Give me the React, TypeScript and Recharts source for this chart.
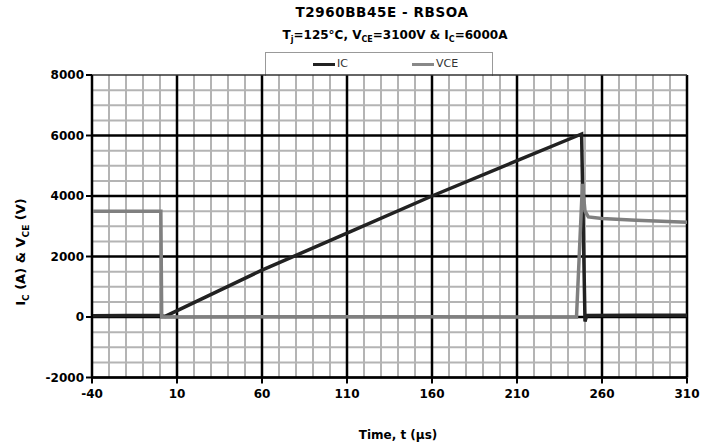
import { LineChart, Line, XAxis, YAxis, ReferenceLine } from "recharts";

// IC trace (time in µs, current in A)
const icTime = [-40, -20, 0, 3, 60, 110, 160, 210, 248, 250, 251, 280, 310];
const icValue = [40, 50, 50, 20, 1550, 2770, 4000, 5170, 6050, -150, 50, 60, 60];

// VCE trace (time in µs, voltage in V)
const vceTime = [-40, 0.5, 1, 60, 160, 245, 248.5, 250, 252, 260, 280, 310];
const vceValue = [3500, 3500, 0, 5, 5, 0, 4400, 3500, 3310, 3260, 3200, 3130];

const xTicks = [-40, 10, 60, 110, 160, 210, 260, 310];
const yTicks = [-2000, 0, 2000, 4000, 6000, 8000];

const icData = icTime.map((t, i) => ({ t, ic: icValue[i] }));
const vceData = vceTime.map((t, i) => ({ t, vce: vceValue[i] }));

const minorX: number[] = [];
for (let v = -30; v < 310; v += 10) if ((v + 40) % 50 !== 0) minorX.push(v);
const minorY: number[] = [];
for (let v = -1500; v < 8000; v += 500) if (v % 2000 !== 0) minorY.push(v);

const font = "'DejaVu Sans', Arial, sans-serif";
const tickStyle = { fontFamily: font, fontWeight: 700, fontSize: 12, fill: "#000" };

export default function App() {
  return (
    <div style={{ position: "absolute", left: 0, top: 0, width: 714, height: 443, background: "#fff", fontFamily: font }}>
      <div style={{ position: "absolute", left: 0, width: 764, top: 4, textAlign: "center", fontWeight: 700, fontSize: 13.5, letterSpacing: 0.6, lineHeight: "17px" }}>
        T2960BB45E - RBSOA
      </div>
      <div style={{ position: "absolute", left: 0, width: 790, top: 27, textAlign: "center", fontWeight: 700, fontSize: 12, lineHeight: "16px" }}>
        T<sub style={{ fontSize: 8 }}>j</sub>=125°C, V<sub style={{ fontSize: 8 }}>CE</sub>=3100V &amp; I<sub style={{ fontSize: 8 }}>C</sub>=6000A
      </div>
      {/* legend box */}
      <div style={{ position: "absolute", left: 265, top: 52, width: 226, height: 23, border: "1px solid #999", borderBottom: "none", fontSize: 11, color: "#333" }}>
        <div style={{ position: "absolute", left: 47, top: 10, width: 22, height: 3, background: "#222" }} />
        <div style={{ position: "absolute", left: 71, top: 4 }}>IC</div>
        <div style={{ position: "absolute", left: 146, top: 10, width: 22, height: 3, background: "#888" }} />
        <div style={{ position: "absolute", left: 170, top: 4 }}>VCE</div>
      </div>
      <div style={{ position: "absolute", left: 22, top: 252, transform: "translate(-50%, -50%) rotate(-90deg)", whiteSpace: "nowrap", fontWeight: 700, fontSize: 13 }}>
        I<sub style={{ fontSize: 9 }}>C</sub> (A) &amp; V<sub style={{ fontSize: 9 }}>CE</sub> (V)
      </div>
      <div style={{ position: "absolute", left: 0, width: 796, top: 428, textAlign: "center", fontWeight: 700, fontSize: 12 }}>
        Time, t (µs)
      </div>
      <LineChart width={714} height={443} margin={{ top: 75, right: 27, left: 0, bottom: 0 }}>
        <XAxis
          dataKey="t"
          type="number"
          domain={[-40, 310]}
          ticks={xTicks}
          allowDataOverflow
          height={65.5}
          tick={tickStyle}
          tickSize={6}
          tickMargin={6}
          axisLine={{ stroke: "#000", strokeWidth: 2 }}
          tickLine={{ stroke: "#000", strokeWidth: 2 }}
        />
        <YAxis
          type="number"
          domain={[-2000, 8000]}
          ticks={yTicks}
          allowDataOverflow
          width={92}
          tick={tickStyle}
          tickSize={6}
          tickMargin={2}
          axisLine={{ stroke: "#000", strokeWidth: 2 }}
          tickLine={{ stroke: "#000", strokeWidth: 2 }}
        />
        {minorX.map((v) => (
          <ReferenceLine key={`mx${v}`} x={v} stroke="#b4b4b4" strokeWidth={2} zIndex={-20} />
        ))}
        {minorY.map((v) => (
          <ReferenceLine key={`my${v}`} y={v} stroke="#b4b4b4" strokeWidth={2} zIndex={-20} />
        ))}
        {xTicks.map((v) => (
          <ReferenceLine key={`Mx${v}`} x={v} stroke="#000" strokeWidth={2.5} zIndex={-10} />
        ))}
        {yTicks.map((v) => (
          <ReferenceLine key={`My${v}`} y={v} stroke={v === 8000 ? "#333" : "#000"} strokeWidth={v === 8000 ? 1.5 : 2.5} zIndex={-10} />
        ))}
        <Line data={icData} dataKey="ic" type="linear" stroke="#222" strokeWidth={3.5} dot={false} isAnimationActive={false} />
        <Line data={vceData} dataKey="vce" type="linear" stroke="#808080" strokeWidth={3.5} dot={false} isAnimationActive={false} />
      </LineChart>
    </div>
  );
}
